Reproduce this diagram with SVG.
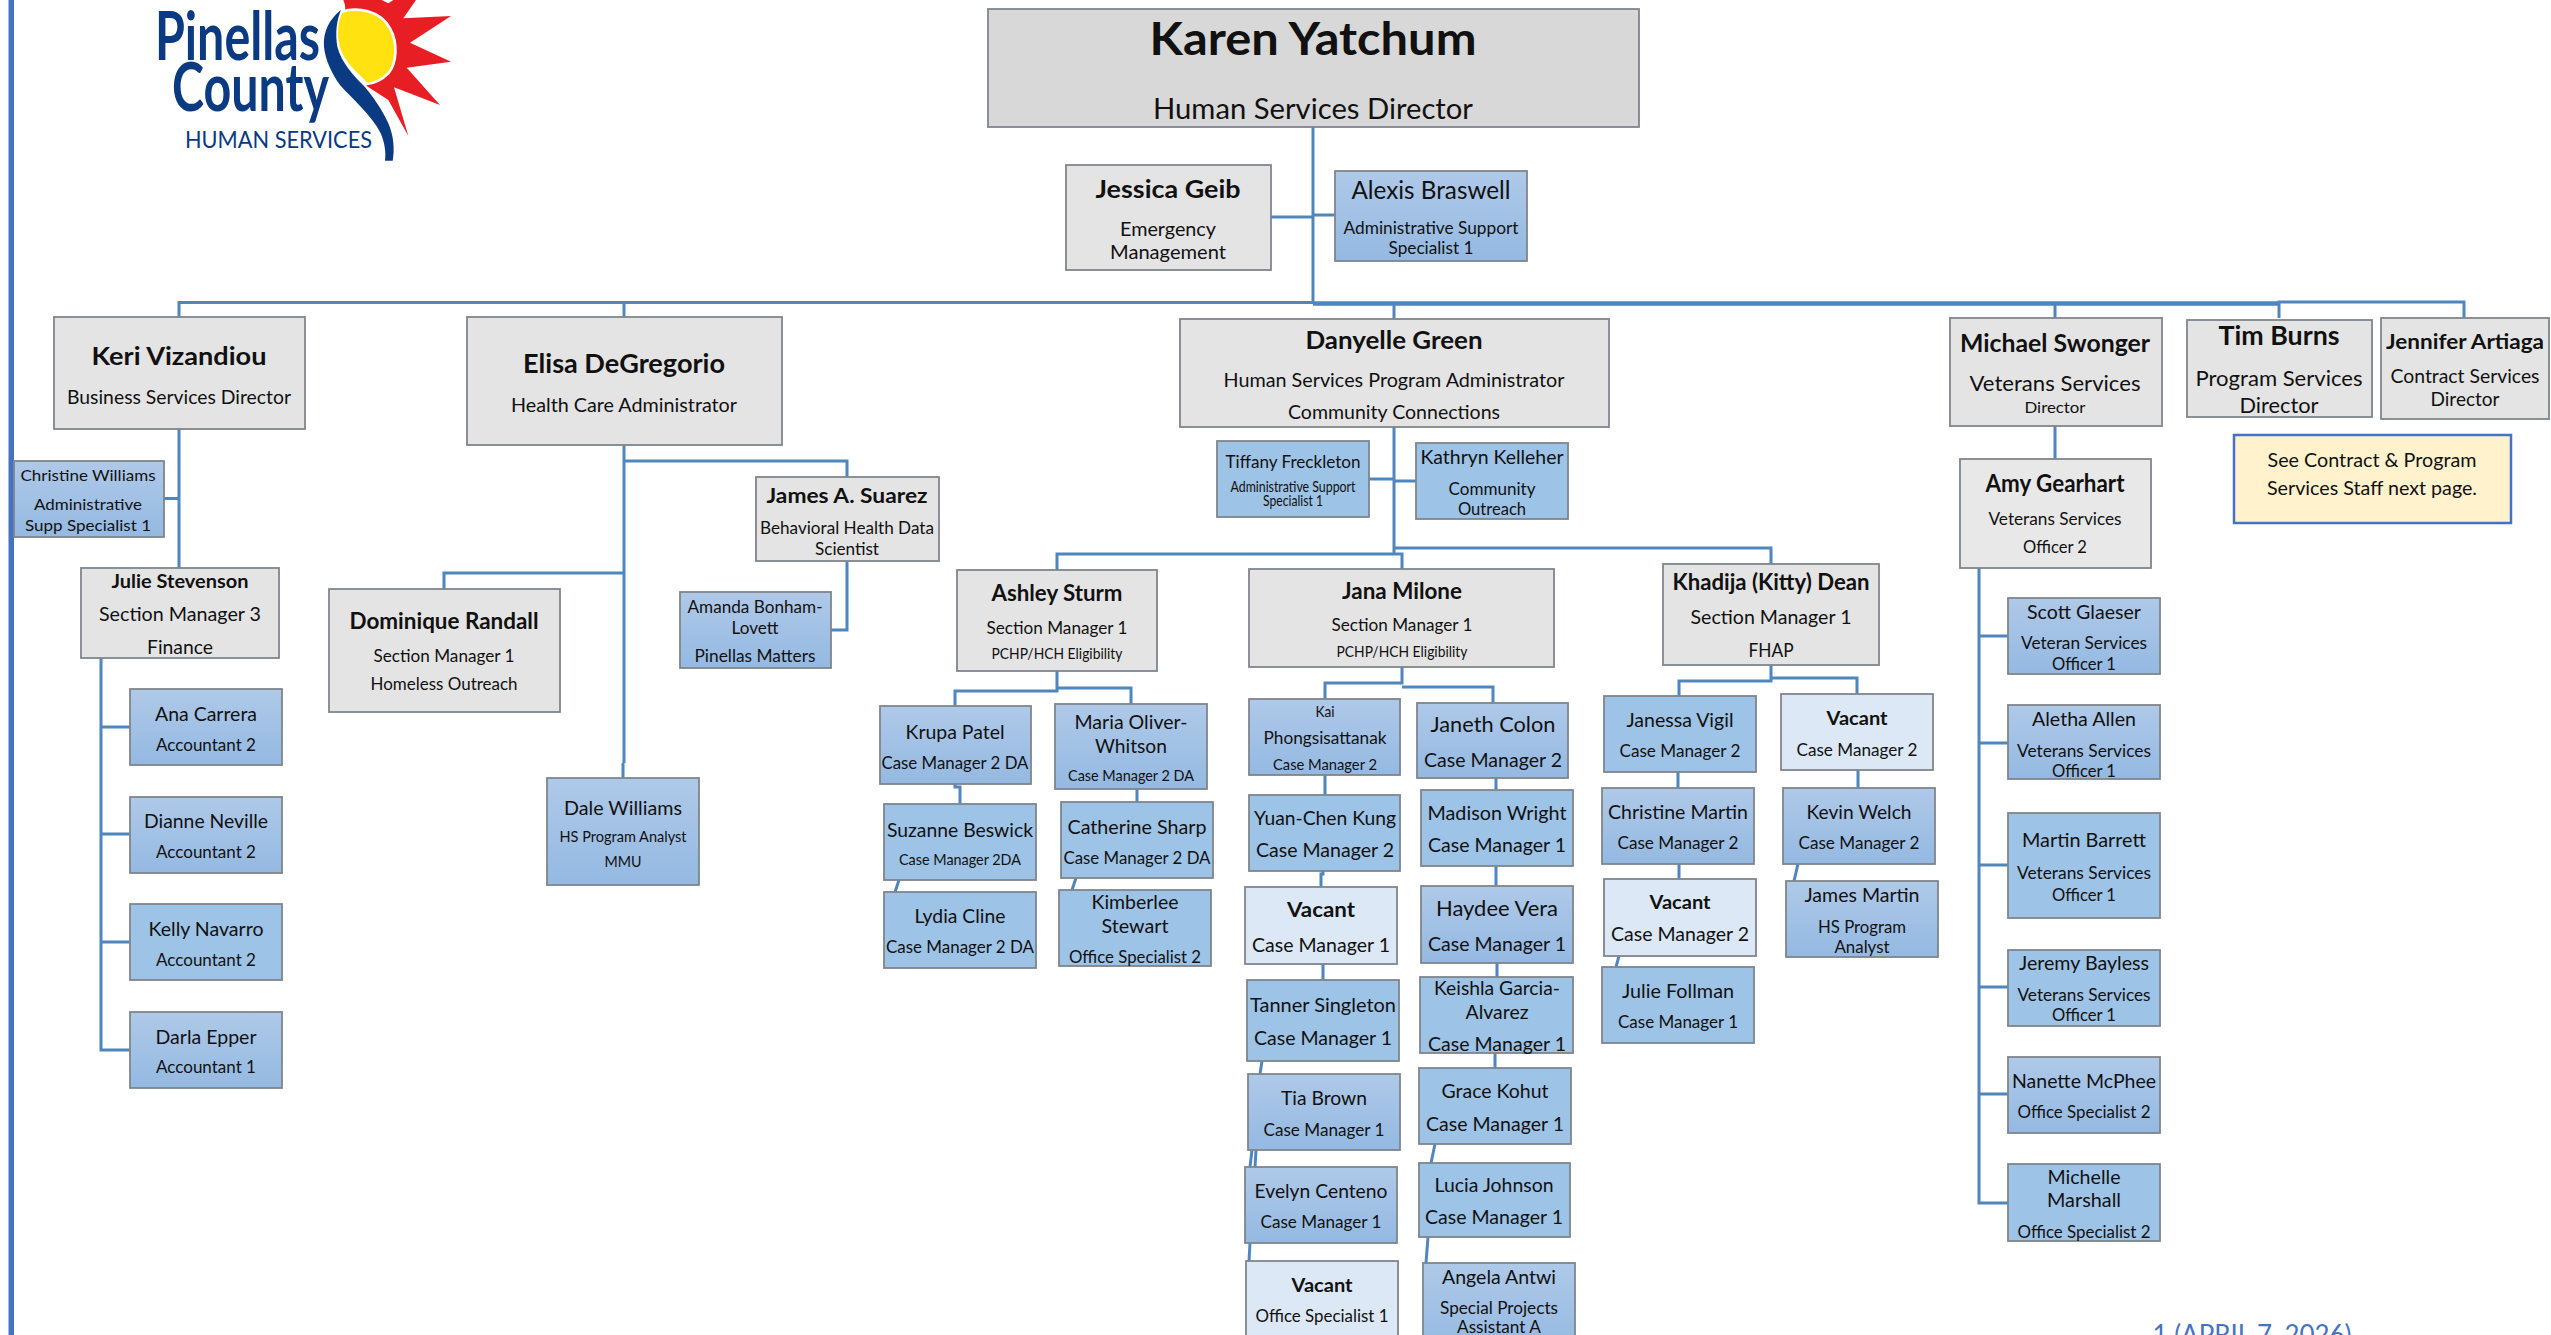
<svg xmlns="http://www.w3.org/2000/svg" width="2551" height="1335" viewBox="0 0 2551 1335">
<style>
text{font-family:Lato,"Open Sans","Liberation Sans",sans-serif;text-anchor:middle;fill:#111}
svg>g:not(#logo):not(#connectors)>text{transform:translateY(1.5px)}
.b{font-weight:700}
.box{stroke:#7f868c;stroke-width:1.8}
.k{fill:#d8d8d8}.g{fill:#e4e4e4}.l{fill:#9dc3e6}.m{fill:url(#bg)}.v{fill:#dce8f5}
.c path{fill:none;stroke:#4f86bd;stroke-width:3}
.logo{fill:#0a3a82;text-anchor:start}
.f15{font-size:15px}.f16{font-size:16px}.f17{font-size:17px}.f18{font-size:18px}.f19{font-size:19px}.f20{font-size:20px}.f21{font-size:21px}.f22{font-size:22px}.f23{font-size:23px}.f24{font-size:24px}.f25{font-size:25px}.f26{font-size:26px}.f28{font-size:28px}.f46{font-size:46px}
</style>
<defs><linearGradient id="bg" x1="0" y1="0" x2="0" y2="1"><stop offset="0" stop-color="#afc9e8"/><stop offset="1" stop-color="#94b9e2"/></linearGradient></defs>
<rect x="8.5" y="0" width="5.5" height="1335" fill="#4472c4"/>
<g id="logo">
<g transform="translate(140,0) scale(.33333)">
<polygon points="615,15 610,0 725,0 745,10 760,0 828,0 790,55 933,48 810,128 933,185 800,203 900,315 762,262 805,408 745,300 680,258 620,100" fill="#e81e25"/>
<path d="M605,35 C650,20 720,30 750,85 C775,130 770,190 745,220 C725,240 700,250 680,252 C650,220 610,190 595,140 C585,100 590,60 605,35 Z" fill="#ffe210" stroke="#fff" stroke-width="8"/>
<path d="M603,30 C570,55 548,95 552,140 C556,180 575,220 600,255 C640,300 695,345 722,400 C735,430 738,460 735,482 L758,482 C764,450 762,410 745,370 C725,325 695,285 672,258 C640,225 605,190 592,140 C585,100 590,60 603,30 Z" fill="#0a3a82"/>
</g>
<text class="logo b" x="155" y="60" font-size="67" textLength="165" lengthAdjust="spacingAndGlyphs">Pinellas</text>
<text class="logo b" x="172" y="111" font-size="67" textLength="157" lengthAdjust="spacingAndGlyphs">County</text>
<text class="logo" x="185" y="148" font-size="24" textLength="187" lengthAdjust="spacingAndGlyphs">HUMAN SERVICES</text>
</g>
<g id="connectors" class="c">
<path d="M1313 127V303"/>
<path d="M1271 217H1313M1313 215H1335"/>
<path d="M179 317V302.5H1313"/>
<path d="M624 317V302.5"/>
<path style="stroke-width:4.5" d="M1313 303.5H2279"/>
<path d="M1394 304V319M2055 304V318M2279 318V302H2464V318"/>
<path d="M179 429V568M164 498.5H179"/>
<path d="M101 658V1050H130M101 727H130M101 834H130M101 942H130"/>
<path d="M624 445V763M623 763V778M624 573H444V589"/>
<path d="M624 461H847V477M847 561V630H831"/>
<path d="M1394 427V554H1057V570M1394 548H1771V564M1394 554H1402V569"/>
<path d="M1369 479H1394M1394 481H1416"/>
<path d="M1057 671V691H955V706M1057 688H1131V704"/>
<path d="M955 784V787H960V804M899 880L895 892M1137 789V802M1076 878L1072 890"/>
<path d="M1402 667V683H1325V699M1402 687H1493V703"/>
<path d="M1325 775V795M1496 778V790M1323 871V874H1321V887M1496 866V886M1323 964V980M1262 1061L1260 1074M1252 1150L1250 1167M1256 1150L1255 1167M1250 1243L1249 1261"/>
<path d="M1497 963V977M1495 1053V1068M1435 1144L1431 1163M1428 1237L1426 1263"/>
<path d="M1771 665V681H1679V696M1771 678H1857V694"/>
<path d="M1678 772V788M1679 864V879M1619 956L1616 967M1858 770V788M1798 864L1794 881"/>
<path d="M2055 426V459M1979 568V1203H2008M1979 636H2008M1979 743H2008M1979 865H2008M1979 987H2008M1979 1094H2008"/>
</g>
<g id="karen"><rect class="box k" x="988" y="9" width="651" height="118"/><text class="b f46" x="1313" y="53" textLength="327" lengthAdjust="spacingAndGlyphs">Karen Yatchum</text><text class="f28" x="1313" y="117" textLength="320" lengthAdjust="spacingAndGlyphs">Human Services Director</text></g>
<g id="jessica"><rect class="box g" x="1066" y="165" width="205" height="105"/><text class="b f25" x="1168" y="196" textLength="145" lengthAdjust="spacingAndGlyphs">Jessica Geib</text><text class="f20" x="1168" y="234" textLength="96" lengthAdjust="spacingAndGlyphs">Emergency</text><text class="f20" x="1168" y="257" textLength="116" lengthAdjust="spacingAndGlyphs">Management</text></g>
<g id="alexis"><rect class="box m" x="1335" y="171" width="192" height="90"/><text class="f25" x="1431" y="197" textLength="159" lengthAdjust="spacingAndGlyphs">Alexis Braswell</text><text class="f17" x="1431" y="232" textLength="175" lengthAdjust="spacingAndGlyphs">Administrative Support</text><text class="f17" x="1431" y="252" textLength="85" lengthAdjust="spacingAndGlyphs">Specialist 1</text></g>
<g id="keri"><rect class="box g" x="54" y="317" width="251" height="112"/><text class="b f25" x="179" y="363" textLength="175" lengthAdjust="spacingAndGlyphs">Keri Vizandiou</text><text class="f19" x="179" y="402" textLength="224" lengthAdjust="spacingAndGlyphs">Business Services Director</text></g>
<g id="elisa"><rect class="box g" x="467" y="317" width="315" height="128"/><text class="b f26" x="624" y="371" textLength="202" lengthAdjust="spacingAndGlyphs">Elisa DeGregorio</text><text class="f19" x="624" y="410" textLength="226" lengthAdjust="spacingAndGlyphs">Health Care Administrator</text></g>
<g id="danyelle"><rect class="box g" x="1180" y="319" width="429" height="108"/><text class="b f25" x="1394" y="347" textLength="177" lengthAdjust="spacingAndGlyphs">Danyelle Green</text><text class="f20" x="1394" y="385" textLength="341" lengthAdjust="spacingAndGlyphs">Human Services Program Administrator</text><text class="f20" x="1394" y="417" textLength="212" lengthAdjust="spacingAndGlyphs">Community Connections</text></g>
<g id="michael"><rect class="box g" x="1950" y="318" width="212" height="108"/><text class="b f24" x="2055" y="350" textLength="190" lengthAdjust="spacingAndGlyphs">Michael Swonger</text><text class="f22" x="2055" y="389" textLength="171" lengthAdjust="spacingAndGlyphs">Veterans Services</text><text class="f16" x="2055" y="411" textLength="61" lengthAdjust="spacingAndGlyphs">Director</text></g>
<g id="tim"><rect class="box g" x="2187" y="320" width="185" height="97"/><text class="b f26" x="2279" y="343" textLength="121" lengthAdjust="spacingAndGlyphs">Tim Burns</text><text class="f22" x="2279" y="384" textLength="167" lengthAdjust="spacingAndGlyphs">Program Services</text><text class="f22" x="2279" y="411" textLength="79" lengthAdjust="spacingAndGlyphs">Director</text></g>
<g id="jennifer"><rect class="box g" x="2381" y="318" width="168" height="101"/><text class="b f21" x="2465" y="347" textLength="158" lengthAdjust="spacingAndGlyphs">Jennifer Artiaga</text><text class="f19" x="2465" y="381" textLength="149" lengthAdjust="spacingAndGlyphs">Contract Services</text><text class="f19" x="2465" y="404" textLength="69" lengthAdjust="spacingAndGlyphs">Director</text></g>
<g id="note"><rect x="2234" y="435" width="277" height="88" fill="#fff2cc" stroke="#4472c4" stroke-width="2.5"/><text class="f20" x="2372" y="465" textLength="209" lengthAdjust="spacingAndGlyphs">See Contract &amp; Program</text><text class="f20" x="2372" y="493" textLength="210" lengthAdjust="spacingAndGlyphs">Services Staff next page.</text></g>
<g id="amy"><rect class="box" fill="#e8e8e8" x="1960" y="459" width="191" height="109"/><text class="b f24" x="2055" y="490" textLength="139" lengthAdjust="spacingAndGlyphs">Amy Gearhart</text><text class="f18" x="2055" y="523" textLength="133" lengthAdjust="spacingAndGlyphs">Veterans Services</text><text class="f18" x="2055" y="551" textLength="64" lengthAdjust="spacingAndGlyphs">Officer 2</text></g>
<g id="scott"><rect class="box m" x="2008" y="598" width="152" height="76"/><text class="f20" x="2084" y="617" textLength="114" lengthAdjust="spacingAndGlyphs">Scott Glaeser</text><text class="f17" x="2084" y="647" textLength="126" lengthAdjust="spacingAndGlyphs">Veteran Services</text><text class="f17" x="2084" y="668" textLength="64" lengthAdjust="spacingAndGlyphs">Officer 1</text></g>
<g id="aletha"><rect class="box m" x="2008" y="705" width="152" height="74"/><text class="f20" x="2084" y="724" textLength="104" lengthAdjust="spacingAndGlyphs">Aletha Allen</text><text class="f17" x="2084" y="755" textLength="134" lengthAdjust="spacingAndGlyphs">Veterans Services</text><text class="f17" x="2084" y="775" textLength="64" lengthAdjust="spacingAndGlyphs">Officer 1</text></g>
<g id="martin"><rect class="box l" x="2008" y="813" width="152" height="105"/><text class="f20" x="2084" y="845" textLength="124" lengthAdjust="spacingAndGlyphs">Martin Barrett</text><text class="f17" x="2084" y="877" textLength="134" lengthAdjust="spacingAndGlyphs">Veterans Services</text><text class="f17" x="2084" y="899" textLength="64" lengthAdjust="spacingAndGlyphs">Officer 1</text></g>
<g id="jeremy"><rect class="box l" x="2008" y="950" width="152" height="76"/><text class="f20" x="2084" y="968" textLength="130" lengthAdjust="spacingAndGlyphs">Jeremy Bayless</text><text class="f17" x="2084" y="999" textLength="133" lengthAdjust="spacingAndGlyphs">Veterans Services</text><text class="f17" x="2084" y="1019" textLength="64" lengthAdjust="spacingAndGlyphs">Officer 1</text></g>
<g id="nanette"><rect class="box m" x="2008" y="1057" width="152" height="76"/><text class="f20" x="2084" y="1086" textLength="144" lengthAdjust="spacingAndGlyphs">Nanette McPhee</text><text class="f17" x="2084" y="1116" textLength="133" lengthAdjust="spacingAndGlyphs">Office Specialist 2</text></g>
<g id="michelle"><rect class="box l" x="2008" y="1164" width="152" height="77"/><text class="f20" x="2084" y="1182" textLength="73" lengthAdjust="spacingAndGlyphs">Michelle</text><text class="f20" x="2084" y="1205" textLength="74" lengthAdjust="spacingAndGlyphs">Marshall</text><text class="f17" x="2084" y="1236" textLength="133" lengthAdjust="spacingAndGlyphs">Office Specialist 2</text></g>
<g id="christine-w"><rect class="box m" x="14" y="461" width="150" height="76"/><text class="f16" x="88" y="479" textLength="135" lengthAdjust="spacingAndGlyphs">Christine Williams</text><text class="f16" x="88" y="508" textLength="108" lengthAdjust="spacingAndGlyphs">Administrative</text><text class="f16" x="88" y="529" textLength="126" lengthAdjust="spacingAndGlyphs">Supp Specialist 1</text></g>
<g id="julie-s"><rect class="box g" x="81" y="568" width="198" height="90"/><text class="b f19" x="180" y="586" textLength="137" lengthAdjust="spacingAndGlyphs">Julie Stevenson</text><text class="f20" x="180" y="619" textLength="162" lengthAdjust="spacingAndGlyphs">Section Manager 3</text><text class="f20" x="180" y="652" textLength="66" lengthAdjust="spacingAndGlyphs">Finance</text></g>
<g id="ana"><rect class="box m" x="130" y="689" width="152" height="76"/><text class="f20" x="206" y="719" textLength="102" lengthAdjust="spacingAndGlyphs">Ana Carrera</text><text class="f18" x="206" y="749" textLength="100" lengthAdjust="spacingAndGlyphs">Accountant 2</text></g>
<g id="dianne"><rect class="box m" x="130" y="797" width="152" height="76"/><text class="f20" x="206" y="826" textLength="124" lengthAdjust="spacingAndGlyphs">Dianne Neville</text><text class="f18" x="206" y="856" textLength="100" lengthAdjust="spacingAndGlyphs">Accountant 2</text></g>
<g id="kelly"><rect class="box l" x="130" y="904" width="152" height="76"/><text class="f20" x="206" y="934" textLength="115" lengthAdjust="spacingAndGlyphs">Kelly Navarro</text><text class="f18" x="206" y="964" textLength="100" lengthAdjust="spacingAndGlyphs">Accountant 2</text></g>
<g id="darla"><rect class="box m" x="130" y="1012" width="152" height="76"/><text class="f20" x="206" y="1042" textLength="101" lengthAdjust="spacingAndGlyphs">Darla Epper</text><text class="f18" x="206" y="1071" textLength="100" lengthAdjust="spacingAndGlyphs">Accountant 1</text></g>
<g id="dominique"><rect class="box g" x="329" y="589" width="231" height="123"/><text class="b f23" x="444" y="627" textLength="189" lengthAdjust="spacingAndGlyphs">Dominique Randall</text><text class="f18" x="444" y="660" textLength="141" lengthAdjust="spacingAndGlyphs">Section Manager 1</text><text class="f18" x="444" y="688" textLength="147" lengthAdjust="spacingAndGlyphs">Homeless Outreach</text></g>
<g id="dale"><rect class="box m" x="547" y="778" width="152" height="107"/><text class="f20" x="623" y="813" textLength="118" lengthAdjust="spacingAndGlyphs">Dale Williams</text><text class="f15" x="623" y="840" textLength="127" lengthAdjust="spacingAndGlyphs">HS Program Analyst</text><text class="f15" x="623" y="865" textLength="37" lengthAdjust="spacingAndGlyphs">MMU</text></g>
<g id="james-s"><rect class="box g" x="756" y="477" width="183" height="84"/><text class="b f20" x="847" y="501" textLength="161" lengthAdjust="spacingAndGlyphs">James A. Suarez</text><text class="f17" x="847" y="532" textLength="174" lengthAdjust="spacingAndGlyphs">Behavioral Health Data</text><text class="f17" x="847" y="553" textLength="64" lengthAdjust="spacingAndGlyphs">Scientist</text></g>
<g id="amanda"><rect class="box m" x="680" y="592" width="151" height="76"/><text class="f17" x="755" y="611" textLength="135" lengthAdjust="spacingAndGlyphs">Amanda Bonham-</text><text class="f17" x="755" y="632" textLength="47" lengthAdjust="spacingAndGlyphs">Lovett</text><text class="f17" x="755" y="660" textLength="121" lengthAdjust="spacingAndGlyphs">Pinellas Matters</text></g>
<g id="tiffany"><rect class="box l" x="1217" y="441" width="152" height="76"/><text class="f18" x="1293" y="466" textLength="135" lengthAdjust="spacingAndGlyphs">Tiffany Freckleton</text><text class="f15" x="1293" y="490" textLength="125" lengthAdjust="spacingAndGlyphs">Administrative Support</text><text class="f15" x="1293" y="504" textLength="60" lengthAdjust="spacingAndGlyphs">Specialist 1</text></g>
<g id="kathryn"><rect class="box l" x="1416" y="443" width="152" height="76"/><text class="f19" x="1492" y="462" textLength="143" lengthAdjust="spacingAndGlyphs">Kathryn Kelleher</text><text class="f17" x="1492" y="493" textLength="87" lengthAdjust="spacingAndGlyphs">Community</text><text class="f17" x="1492" y="513" textLength="68" lengthAdjust="spacingAndGlyphs">Outreach</text></g>
<g id="ashley"><rect class="box g" x="957" y="570" width="200" height="101"/><text class="b f23" x="1057" y="599" textLength="131" lengthAdjust="spacingAndGlyphs">Ashley Sturm</text><text class="f18" x="1057" y="632" textLength="141" lengthAdjust="spacingAndGlyphs">Section Manager 1</text><text class="f16" x="1057" y="657" textLength="131" lengthAdjust="spacingAndGlyphs">PCHP/HCH Eligibility</text></g>
<g id="jana"><rect class="box g" x="1249" y="569" width="305" height="98"/><text class="b f22" x="1402" y="597" textLength="120" lengthAdjust="spacingAndGlyphs">Jana Milone</text><text class="f18" x="1402" y="629" textLength="141" lengthAdjust="spacingAndGlyphs">Section Manager 1</text><text class="f16" x="1402" y="655" textLength="131" lengthAdjust="spacingAndGlyphs">PCHP/HCH Eligibility</text></g>
<g id="khadija"><rect class="box g" x="1663" y="564" width="216" height="101"/><text class="b f22" x="1771" y="588" textLength="197" lengthAdjust="spacingAndGlyphs">Khadija (Kitty) Dean</text><text class="f20" x="1771" y="622" textLength="161" lengthAdjust="spacingAndGlyphs">Section Manager 1</text><text class="f20" x="1771" y="655" textLength="45" lengthAdjust="spacingAndGlyphs">FHAP</text></g>
<g id="krupa"><rect class="box m" x="880" y="706" width="151" height="78"/><text class="f20" x="955" y="737" textLength="99" lengthAdjust="spacingAndGlyphs">Krupa Patel</text><text class="f18" x="955" y="767" textLength="147" lengthAdjust="spacingAndGlyphs">Case Manager 2 DA</text></g>
<g id="suzanne"><rect class="box l" x="884" y="804" width="152" height="76"/><text class="f20" x="960" y="835" textLength="146" lengthAdjust="spacingAndGlyphs">Suzanne Beswick</text><text class="f15" x="960" y="863" textLength="122" lengthAdjust="spacingAndGlyphs">Case Manager 2DA</text></g>
<g id="lydia"><rect class="box l" x="884" y="892" width="152" height="76"/><text class="f20" x="960" y="921" textLength="91" lengthAdjust="spacingAndGlyphs">Lydia Cline</text><text class="f18" x="960" y="951" textLength="148" lengthAdjust="spacingAndGlyphs">Case Manager 2 DA</text></g>
<g id="maria"><rect class="box m" x="1055" y="704" width="152" height="85"/><text class="f20" x="1131" y="727" textLength="113" lengthAdjust="spacingAndGlyphs">Maria Oliver-</text><text class="f20" x="1131" y="751" textLength="72" lengthAdjust="spacingAndGlyphs">Whitson</text><text class="f15" x="1131" y="779" textLength="126" lengthAdjust="spacingAndGlyphs">Case Manager 2 DA</text></g>
<g id="catherine"><rect class="box l" x="1061" y="802" width="152" height="76"/><text class="f20" x="1137" y="832" textLength="139" lengthAdjust="spacingAndGlyphs">Catherine Sharp</text><text class="f18" x="1137" y="862" textLength="147" lengthAdjust="spacingAndGlyphs">Case Manager 2 DA</text></g>
<g id="kimberlee"><rect class="box l" x="1059" y="890" width="152" height="76"/><text class="f20" x="1135" y="907" textLength="87" lengthAdjust="spacingAndGlyphs">Kimberlee</text><text class="f20" x="1135" y="931" textLength="67" lengthAdjust="spacingAndGlyphs">Stewart</text><text class="f17" x="1135" y="961" textLength="132" lengthAdjust="spacingAndGlyphs">Office Specialist 2</text></g>
<g id="kai"><rect class="box m" x="1249" y="699" width="151" height="76"/><text class="f15" x="1325" y="715" textLength="19" lengthAdjust="spacingAndGlyphs">Kai</text><text class="f17" x="1325" y="742" textLength="123" lengthAdjust="spacingAndGlyphs">Phongsisattanak</text><text class="f15" x="1325" y="768" textLength="104" lengthAdjust="spacingAndGlyphs">Case Manager 2</text></g>
<g id="janeth"><rect class="box m" x="1417" y="703" width="151" height="75"/><text class="f22" x="1493" y="730" textLength="125" lengthAdjust="spacingAndGlyphs">Janeth Colon</text><text class="f19" x="1493" y="765" textLength="138" lengthAdjust="spacingAndGlyphs">Case Manager 2</text></g>
<g id="yuan"><rect class="box l" x="1249" y="795" width="151" height="76"/><text class="f20" x="1325" y="823" textLength="142" lengthAdjust="spacingAndGlyphs">Yuan-Chen Kung</text><text class="f19" x="1325" y="855" textLength="138" lengthAdjust="spacingAndGlyphs">Case Manager 2</text></g>
<g id="madison"><rect class="box l" x="1421" y="790" width="152" height="76"/><text class="f20" x="1497" y="818" textLength="139" lengthAdjust="spacingAndGlyphs">Madison Wright</text><text class="f19" x="1497" y="850" textLength="138" lengthAdjust="spacingAndGlyphs">Case Manager 1</text></g>
<g id="vacant-1"><rect class="box v" x="1245" y="887" width="152" height="77"/><text class="b f21" x="1321" y="915" textLength="68" lengthAdjust="spacingAndGlyphs">Vacant</text><text class="f19" x="1321" y="950" textLength="138" lengthAdjust="spacingAndGlyphs">Case Manager 1</text></g>
<g id="haydee"><rect class="box m" x="1421" y="886" width="152" height="77"/><text class="f21" x="1497" y="914" textLength="122" lengthAdjust="spacingAndGlyphs">Haydee Vera</text><text class="f19" x="1497" y="949" textLength="138" lengthAdjust="spacingAndGlyphs">Case Manager 1</text></g>
<g id="tanner"><rect class="box l" x="1247" y="980" width="152" height="81"/><text class="f20" x="1323" y="1010" textLength="146" lengthAdjust="spacingAndGlyphs">Tanner Singleton</text><text class="f19" x="1323" y="1043" textLength="138" lengthAdjust="spacingAndGlyphs">Case Manager 1</text></g>
<g id="keishla"><rect class="box l" x="1420" y="977" width="153" height="76"/><text class="f19" x="1497" y="993" textLength="126" lengthAdjust="spacingAndGlyphs">Keishla Garcia-</text><text class="f19" x="1497" y="1017" textLength="63" lengthAdjust="spacingAndGlyphs">Alvarez</text><text class="f19" x="1497" y="1049" textLength="138" lengthAdjust="spacingAndGlyphs">Case Manager 1</text></g>
<g id="tia"><rect class="box m" x="1248" y="1074" width="152" height="76"/><text class="f20" x="1324" y="1103" textLength="86" lengthAdjust="spacingAndGlyphs">Tia Brown</text><text class="f17" x="1324" y="1134" textLength="121" lengthAdjust="spacingAndGlyphs">Case Manager 1</text></g>
<g id="grace"><rect class="box l" x="1419" y="1068" width="152" height="76"/><text class="f20" x="1495" y="1096" textLength="107" lengthAdjust="spacingAndGlyphs">Grace Kohut</text><text class="f19" x="1495" y="1129" textLength="138" lengthAdjust="spacingAndGlyphs">Case Manager 1</text></g>
<g id="evelyn"><rect class="box m" x="1245" y="1167" width="152" height="76"/><text class="f20" x="1321" y="1196" textLength="133" lengthAdjust="spacingAndGlyphs">Evelyn Centeno</text><text class="f17" x="1321" y="1226" textLength="121" lengthAdjust="spacingAndGlyphs">Case Manager 1</text></g>
<g id="lucia"><rect class="box l" x="1419" y="1163" width="151" height="74"/><text class="f20" x="1494" y="1190" textLength="119" lengthAdjust="spacingAndGlyphs">Lucia Johnson</text><text class="f19" x="1494" y="1222" textLength="138" lengthAdjust="spacingAndGlyphs">Case Manager 1</text></g>
<g id="vacant-os"><rect class="box v" x="1246" y="1261" width="152" height="90"/><text class="b f19" x="1322" y="1290" textLength="61" lengthAdjust="spacingAndGlyphs">Vacant</text><text class="f18" x="1322" y="1320" textLength="133" lengthAdjust="spacingAndGlyphs">Office Specialist 1</text></g>
<g id="angela"><rect class="box m" x="1423" y="1263" width="152" height="90"/><text class="f20" x="1499" y="1282" textLength="114" lengthAdjust="spacingAndGlyphs">Angela Antwi</text><text class="f17" x="1499" y="1312" textLength="118" lengthAdjust="spacingAndGlyphs">Special Projects</text><text class="f17" x="1499" y="1331" textLength="84" lengthAdjust="spacingAndGlyphs">Assistant A</text></g>
<g id="janessa"><rect class="box l" x="1604" y="696" width="152" height="76"/><text class="f20" x="1680" y="725" textLength="107" lengthAdjust="spacingAndGlyphs">Janessa Vigil</text><text class="f17" x="1680" y="755" textLength="121" lengthAdjust="spacingAndGlyphs">Case Manager 2</text></g>
<g id="vacant-2a"><rect class="box v" x="1781" y="694" width="152" height="76"/><text class="b f19" x="1857" y="723" textLength="61" lengthAdjust="spacingAndGlyphs">Vacant</text><text class="f17" x="1857" y="754" textLength="121" lengthAdjust="spacingAndGlyphs">Case Manager 2</text></g>
<g id="christine-m"><rect class="box m" x="1602" y="788" width="152" height="76"/><text class="f20" x="1678" y="817" textLength="140" lengthAdjust="spacingAndGlyphs">Christine Martin</text><text class="f17" x="1678" y="847" textLength="121" lengthAdjust="spacingAndGlyphs">Case Manager 2</text></g>
<g id="kevin"><rect class="box m" x="1783" y="788" width="152" height="76"/><text class="f20" x="1859" y="817" textLength="105" lengthAdjust="spacingAndGlyphs">Kevin Welch</text><text class="f17" x="1859" y="847" textLength="121" lengthAdjust="spacingAndGlyphs">Case Manager 2</text></g>
<g id="vacant-2b"><rect class="box v" x="1604" y="879" width="152" height="77"/><text class="b f19" x="1680" y="907" textLength="61" lengthAdjust="spacingAndGlyphs">Vacant</text><text class="f19" x="1680" y="939" textLength="138" lengthAdjust="spacingAndGlyphs">Case Manager 2</text></g>
<g id="james-m"><rect class="box m" x="1786" y="881" width="152" height="76"/><text class="f20" x="1862" y="900" textLength="115" lengthAdjust="spacingAndGlyphs">James Martin</text><text class="f17" x="1862" y="931" textLength="88" lengthAdjust="spacingAndGlyphs">HS Program</text><text class="f17" x="1862" y="951" textLength="55" lengthAdjust="spacingAndGlyphs">Analyst</text></g>
<g id="julie-f"><rect class="box l" x="1602" y="967" width="152" height="76"/><text class="f20" x="1678" y="996" textLength="112" lengthAdjust="spacingAndGlyphs">Julie Follman</text><text class="f17" x="1678" y="1026" textLength="120" lengthAdjust="spacingAndGlyphs">Case Manager 1</text></g>
<text x="2252" y="1344" font-size="27" style="fill:#4472c4" textLength="199" lengthAdjust="spacingAndGlyphs">1  (APRIL 7, 2026)</text>
</svg>
